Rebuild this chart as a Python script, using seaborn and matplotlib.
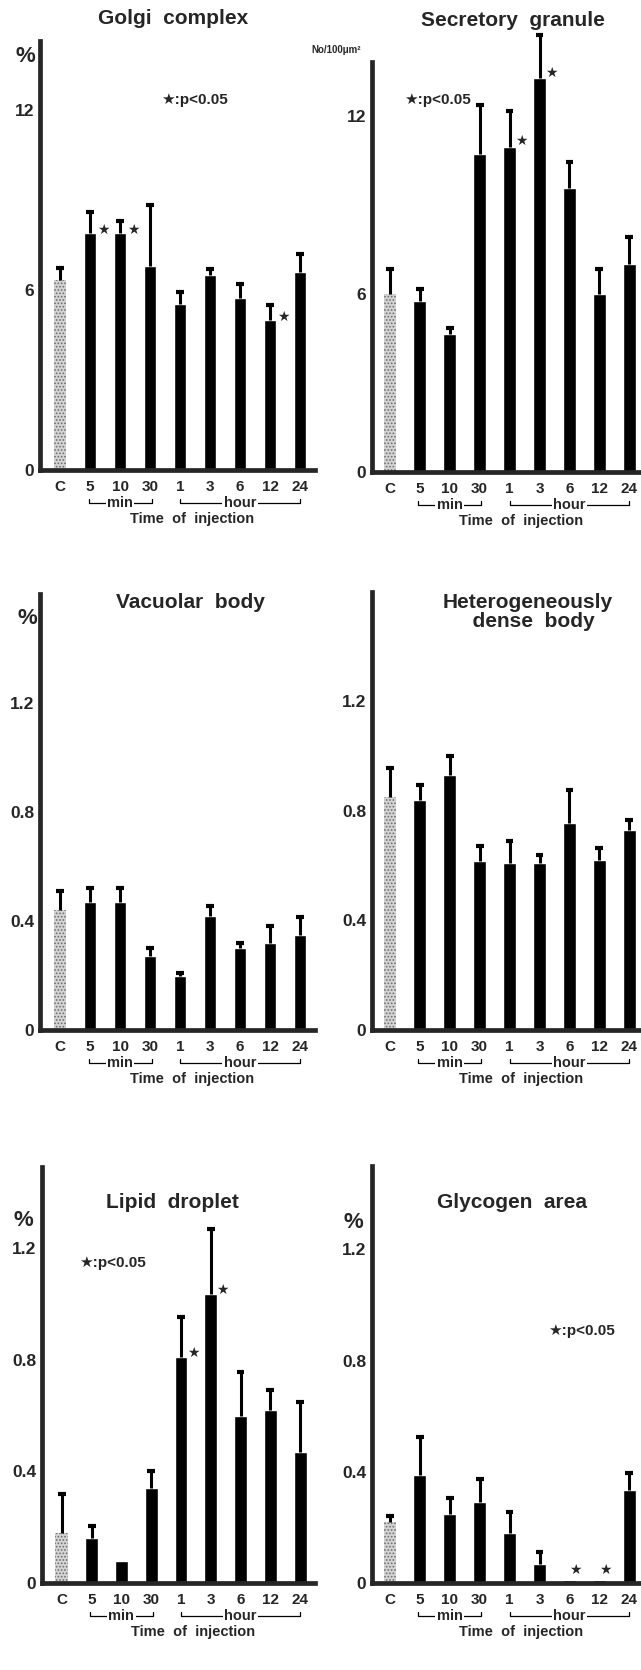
import matplotlib
matplotlib.use("Agg")
import matplotlib.pyplot as plt
import matplotlib.transforms as mtransforms
import seaborn as sns
import pandas as pd
import numpy as np

# Time of injection categories
times = ["C", "5", "10", "30", "1", "3", "6", "12", "24"]

# Golgi complex (%), mean and mean+SE
golgi = [6.35, 7.9, 7.9, 6.8, 5.55, 6.5, 5.75, 5.0, 6.6]
golgi_err = [6.75, 8.6, 8.3, 8.85, 5.95, 6.7, 6.2, 5.5, 7.2]
golgi_stars = ["5", "10", "12"]

# Secretory granule (No/100um2)
secretory = [6.0, 5.75, 4.65, 10.7, 10.95, 13.25, 9.55, 6.0, 7.0]
secretory_err = [6.85, 6.15, 4.85, 12.35, 12.15, 14.7, 10.45, 6.85, 7.9]
secretory_stars = ["1", "3"]

# Vacuolar body (%)
vacuolar = [0.44, 0.47, 0.47, 0.27, 0.20, 0.42, 0.30, 0.32, 0.35]
vacuolar_err = [0.51, 0.52, 0.52, 0.30, 0.21, 0.455, 0.32, 0.38, 0.415]

# Heterogeneously dense body (%)
hetero = [0.85, 0.84, 0.93, 0.615, 0.61, 0.61, 0.755, 0.62, 0.73]
hetero_err = [0.955, 0.895, 1.0, 0.67, 0.69, 0.64, 0.875, 0.665, 0.765]

# Lipid droplet (%)
lipid = [0.18, 0.16, 0.08, 0.34, 0.81, 1.035, 0.60, 0.62, 0.47]
lipid_err = [0.32, 0.205, 0.08, 0.40, 0.955, 1.27, 0.755, 0.69, 0.65]
lipid_stars = ["1", "3"]

# Glycogen area (%)
glycogen = [0.22, 0.39, 0.25, 0.29, 0.18, 0.07, 0.012, 0.012, 0.335]
glycogen_err = [0.24, 0.525, 0.305, 0.375, 0.255, 0.11, 0.012, 0.012, 0.395]
glycogen_stars = ["6", "12"]

W, H, DPI = 641, 1670, 100

sns.set_style("white")
plt.rcParams["font.family"] = ["Liberation Sans", "DejaVu Sans"]
plt.rcParams["font.weight"] = "bold"
plt.rcParams["hatch.linewidth"] = 0.8

fig = plt.figure(figsize=(W / DPI, H / DPI), dpi=DPI)


def ypx(v):
    # pixel row from top -> inches from figure bottom
    return (H - v) / DPI


panels = [
    dict(vals=golgi, errs=golgi_err, stars=golgi_stars, xl=40, xr=315, base=470, ppu=30.0,
         ytop=15, stop=14.3, xlo=-0.667, xhi=8.5, ticks=[0, 6, 12], lab=["0", "6", "12"],
         title="Golgi  complex", tpos=(173, 18), unit="%", upos=(25, 57), usize=16,
         note=(194, 100), star_dx=13, star_dy=3),
    dict(vals=secretory, errs=secretory_err, stars=secretory_stars, xl=372, xr=640, base=472, ppu=29.7,
         ytop=15, stop=13.8, xlo=-0.6, xhi=8.36, ticks=[0, 6, 12], lab=["0", "6", "12"],
         title="Secretory  granule", tpos=(513, 20), unit="No/100μm²", upos=(336, 50), usize=7,
         note=(437, 100), star_dx=12, star_dy=6),
    dict(vals=vacuolar, errs=vacuolar_err, stars=[], xl=40, xr=315, base=1030, ppu=272.5,
         ytop=1.6, stop=1.6, xlo=-0.667, xhi=8.5, ticks=None, lab=None,
         title="Vacuolar  body", tpos=(190, 602), unit="%", upos=(27, 618), usize=16,
         note=None, star_dx=0, star_dy=0),
    dict(vals=hetero, errs=hetero_err, stars=[], xl=372, xr=640, base=1030, ppu=274.0,
         ytop=1.6, stop=1.6, xlo=-0.6, xhi=8.36, ticks=None, lab=None,
         title="Heterogeneously\n  dense  body", tpos=(528, 612), unit=None, upos=None, usize=0,
         note=None, star_dx=0, star_dy=0),
    dict(vals=lipid, errs=lipid_err, stars=lipid_stars, xl=42, xr=315, base=1583, ppu=279.0,
         ytop=1.5, stop=1.49, xlo=-0.667, xhi=8.5, ticks=None, lab=None,
         title="Lipid  droplet", tpos=(172, 1202), unit="%", upos=(23, 1221), usize=16,
         note=(112, 1263), star_dx=12, star_dy=4),
    dict(vals=glycogen, errs=glycogen_err, stars=glycogen_stars, xl=372, xr=640, base=1583, ppu=278.0,
         ytop=1.5, stop=1.5, xlo=-0.6, xhi=8.36, ticks=None, lab=None,
         title="Glycogen  area", tpos=(512, 1202), unit="%", upos=(353, 1223), usize=16,
         note=(581, 1331), star_dx=6, star_dy=10),
]

frac_ticks = [0, 0.2, 0.4, 0.6, 0.8, 1.0, 1.2, 1.4]
frac_labels = ["0", "", "0.4", "", "0.8", "", "1.2", ""]
palette = ["#d4d4d4"] + ["black"] * 8

for p in panels:
    height_px = p["ytop"] * p["ppu"]
    ax = fig.add_axes([p["xl"] / W, (H - p["base"]) / H, (p["xr"] - p["xl"]) / W, height_px / H])
    df = pd.DataFrame({"time": times, "value": p["vals"], "top": p["errs"]})
    sns.barplot(data=df, x="time", y="value", hue="time", order=times, hue_order=times,
                palette=palette, width=0.43, saturation=1, legend=False, ax=ax)
    for patch in ax.patches:
        if abs(patch.get_x() + patch.get_width() / 2) < 0.01:
            patch.set_hatch(".....")
            patch.set_edgecolor("#6e6e6e")
            patch.set_linewidth(0)

    xs = np.arange(len(times))
    has_err = df["top"] > df["value"] + 1e-9
    ax.vlines(xs[has_err], df["value"][has_err], df["top"][has_err], color="black", lw=2.2, clip_on=False)
    ax.hlines(df["top"][has_err], xs[has_err] - 0.13, xs[has_err] + 0.13, color="black", lw=3.0, clip_on=False)

    for s in p["stars"]:
        i = times.index(s)
        ax.annotate("★", (i, p["vals"][i]), xytext=(p["star_dx"] * 0.72, p["star_dy"] * 0.72),
                    textcoords="offset points", ha="center", va="center", fontsize=10,
                    family=["DejaVu Sans"], annotation_clip=False)

    ax.set_xlim(p["xlo"], p["xhi"])
    ax.set_ylim(0, p["ytop"])
    if p["ticks"] is None:
        ax.set_yticks(frac_ticks)
        ax.set_yticklabels(frac_labels)
    else:
        ax.set_yticks(p["ticks"])
        ax.set_yticklabels(p["lab"])
    ax.set_xticks(xs)
    ax.set_xticklabels(times)
    ax.tick_params(axis="y", direction="in", length=4, width=1.6, pad=4, labelsize=12.5, color="black")
    ax.tick_params(axis="x", length=0, pad=7, labelsize=11)
    for lbl in ax.get_xticklabels() + ax.get_yticklabels():
        lbl.set_fontweight("bold")
    ax.set_xlabel("")
    ax.set_ylabel("")
    sns.despine(ax=ax)
    ax.spines["left"].set_linewidth(3.4)
    ax.spines["bottom"].set_linewidth(3.4)
    ax.spines["left"].set_bounds(0, p["stop"])
    ax.set_facecolor("none")

    # min / hour brackets and axis caption
    tr = mtransforms.blended_transform_factory(ax.transData, fig.dpi_scale_trans)
    yb = ypx(p["base"] + 33)
    for x0, x1, word in [(0.95, 3.05, "min"), (4, 8, "hour")]:
        ax.plot([x0, x0, x1, x1], [yb + 0.04, yb, yb, yb + 0.04], transform=tr,
                color="black", lw=0.9, clip_on=False)
        ax.text((x0 + x1) / 2, yb, word, transform=tr, ha="center", va="center",
                fontsize=10.5, fontweight="bold",
                bbox=dict(facecolor="white", edgecolor="none", pad=1.0))
    ax.text(4.4, ypx(p["base"] + 49), "Time  of  injection", transform=tr, ha="center",
            va="center", fontsize=10.5, fontweight="bold")

    fig.text(p["tpos"][0] / W, 1 - p["tpos"][1] / H, p["title"], ha="center", va="center",
             fontsize=15, fontweight="bold", linespacing=1.0)
    if p["unit"]:
        fig.text(p["upos"][0] / W, 1 - p["upos"][1] / H, p["unit"], ha="center", va="center",
                 fontsize=p["usize"], fontweight="bold")
    if p["note"]:
        fig.text(p["note"][0] / W, 1 - p["note"][1] / H, "★:p<0.05", ha="center", va="center",
                 fontsize=11, fontweight="bold", family=["Liberation Sans", "DejaVu Sans"])

fig.savefig("out.png", dpi=DPI, facecolor="white")
